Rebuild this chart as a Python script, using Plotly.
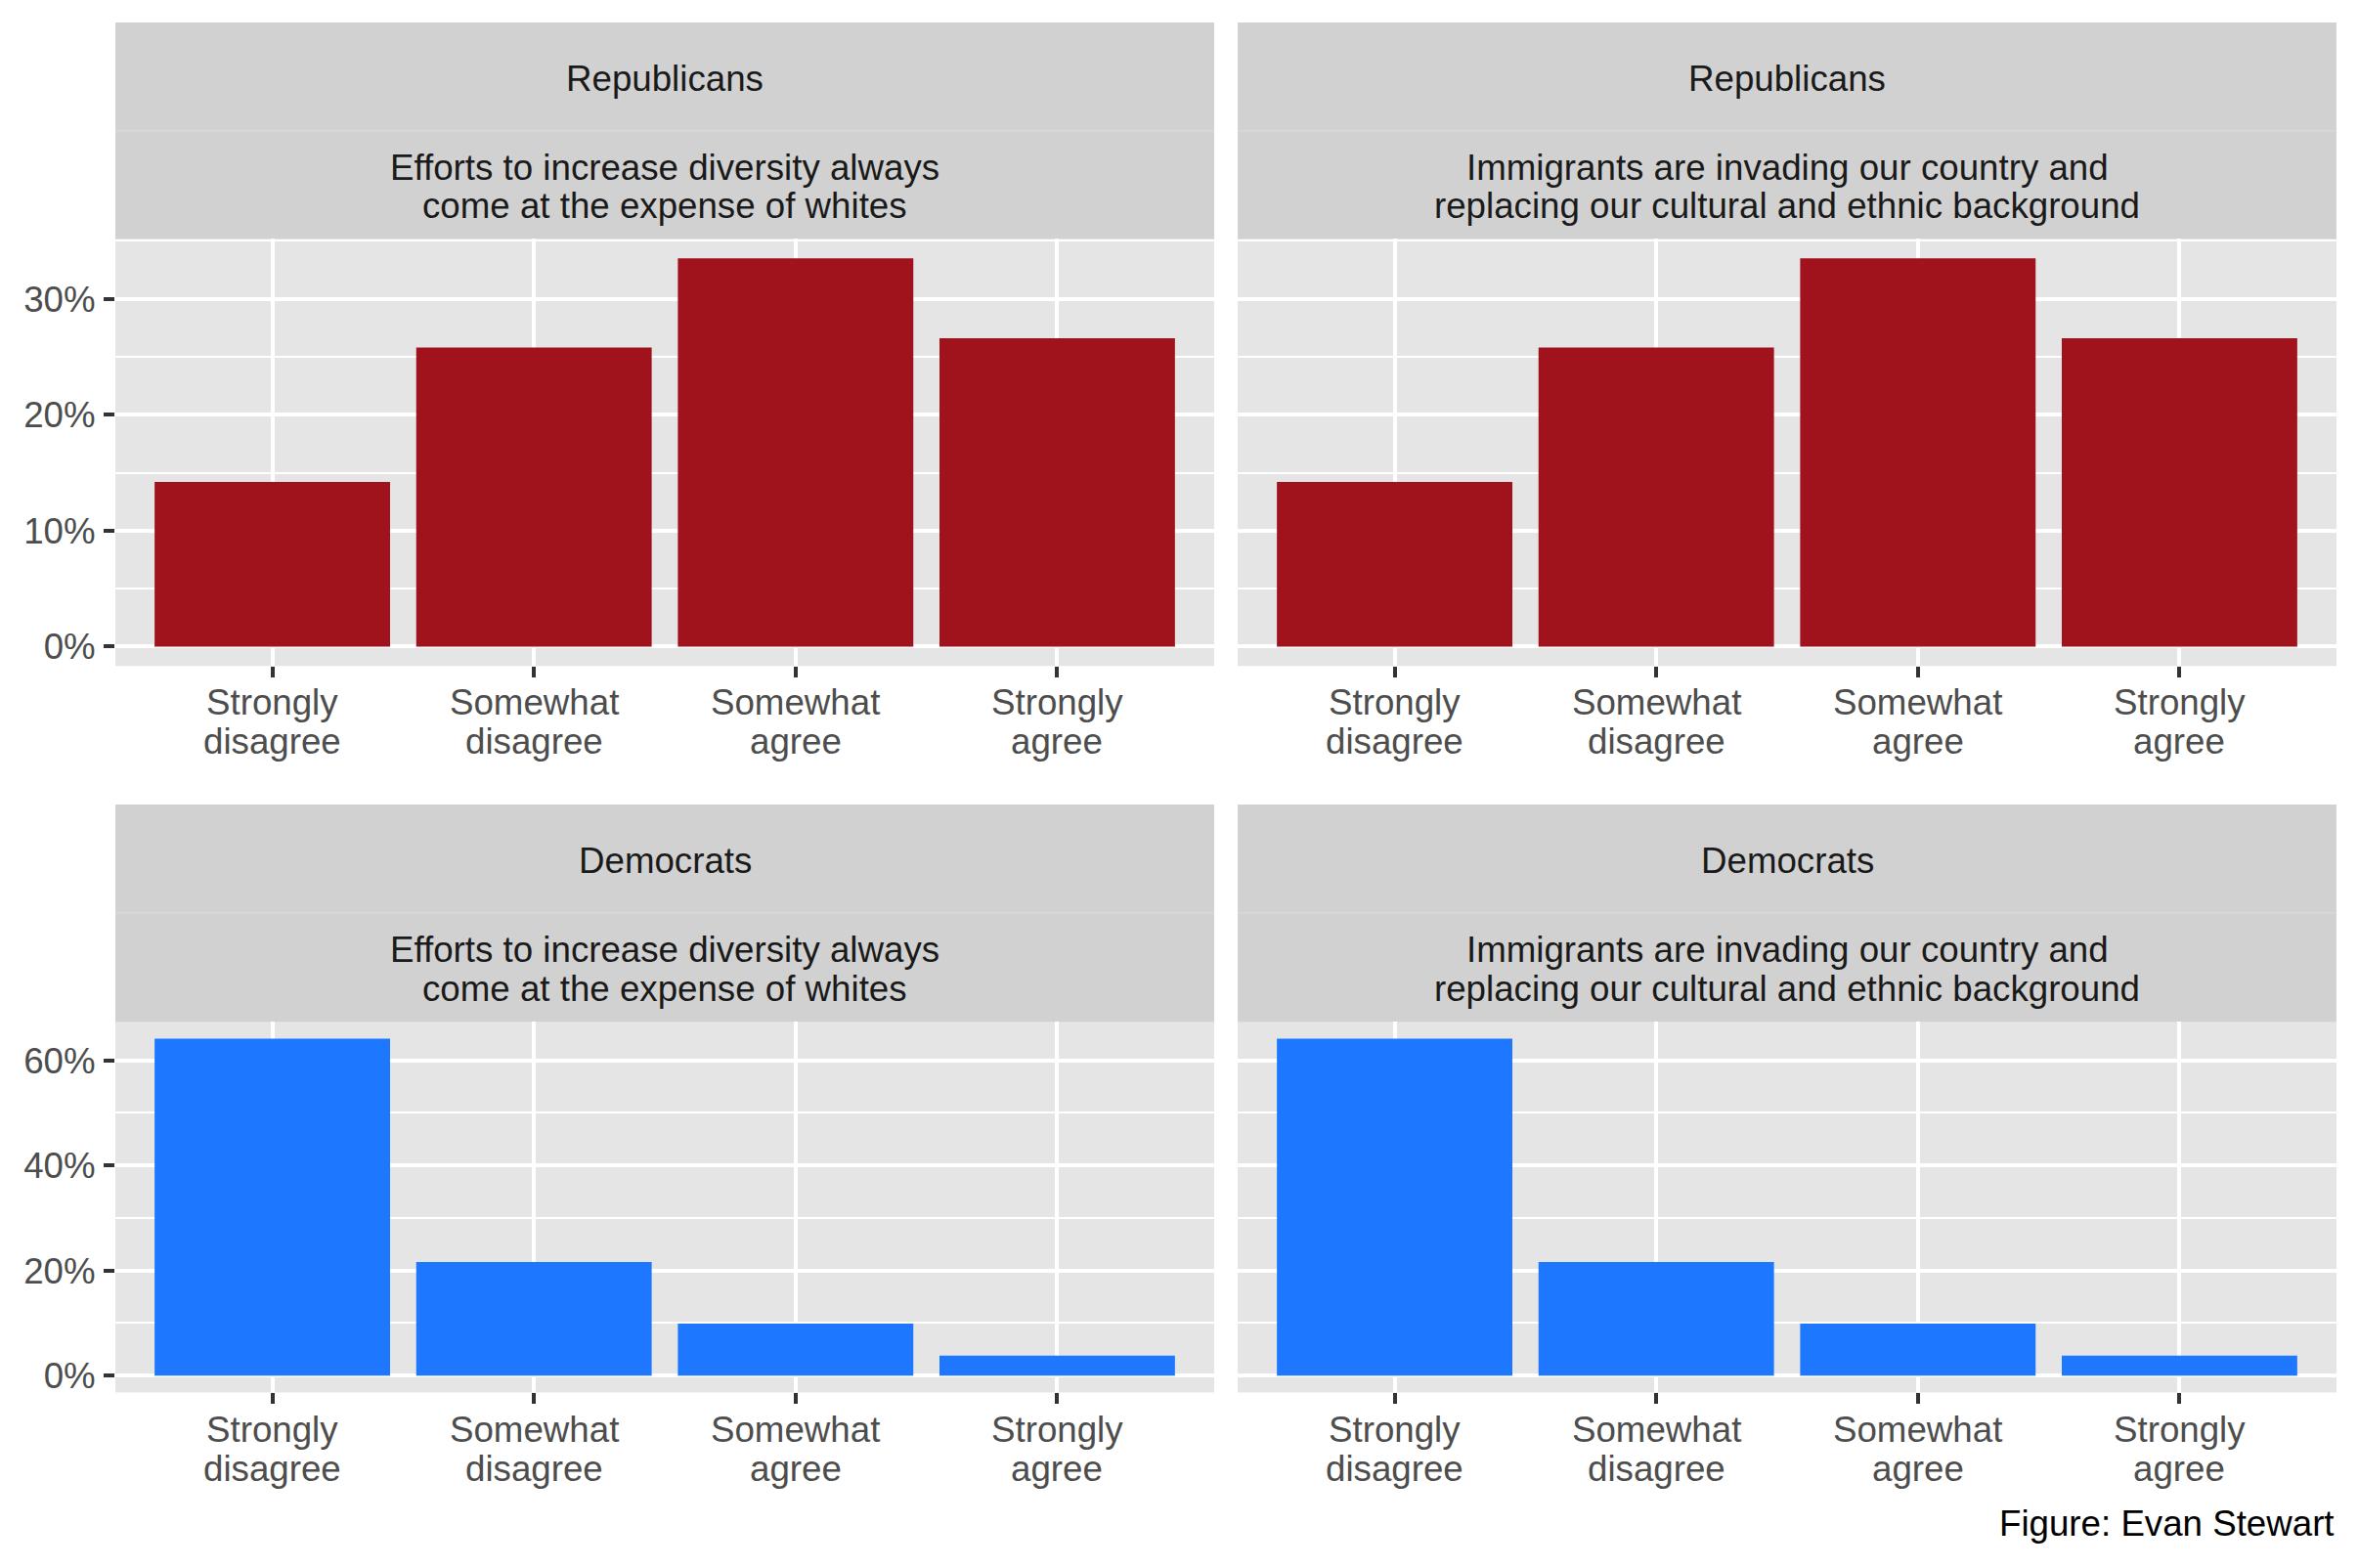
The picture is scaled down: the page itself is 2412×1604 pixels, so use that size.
import plotly.graph_objects as go

# ---------------- data ----------------
categories = ["Strongly disagree", "Somewhat disagree", "Somewhat agree", "Strongly agree"]
tick_labels = ["Strongly<br>disagree", "Somewhat<br>disagree", "Somewhat<br>agree", "Strongly<br>agree"]
parties = ["Republicans", "Democrats"]
statements = [
    "Efforts to increase diversity always<br>come at the expense of whites",
    "Immigrants are invading our country and<br>replacing our cultural and ethnic background",
]
rep_diversity = [14.2, 25.8, 33.5, 26.6]
rep_immigrants = [14.2, 25.8, 33.5, 26.6]
dem_diversity = [64.1, 21.6, 9.9, 3.8]
dem_immigrants = [64.1, 21.6, 9.9, 3.8]
rep_ticks = [0, 10, 20, 30]
dem_ticks = [0, 20, 40, 60]
caption = "Figure: Evan Stewart"

# ---------------- style ----------------
W, H = 2412, 1604
FONT = "Liberation Sans, Arial, Helvetica, sans-serif"
FS = 36.7
LINE_H = 40
RED = "#A0121C"
BLUE = "#1E78FF"
PANEL_BG = "#E5E5E5"
STRIP_BG = "#D1D1D1"

col_px = [(118, 1242), (1266, 2390)]
row_panel_px = [(245, 683), (1048, 1428)]
row_strip_px = [(23, 134, 245), (825, 936, 1048)]
row_label_px = [720, 1466]

def px_x(p):
    return p / W

def px_y(p):
    return 1 - p / H

panels = [
    (0, 0, rep_diversity, RED, rep_ticks),
    (0, 1, rep_immigrants, RED, rep_ticks),
    (1, 0, dem_diversity, BLUE, dem_ticks),
    (1, 1, dem_immigrants, BLUE, dem_ticks),
]

fig = go.Figure()
layout = {}
shapes = []
annotations = []

for i, (r, c, vals, color, ticks) in enumerate(panels):
    n = i + 1
    xa = "x" if n == 1 else f"x{n}"
    ya = "y" if n == 1 else f"y{n}"
    fig.add_trace(go.Bar(
        x=list(range(len(categories))), y=vals, width=0.9,
        marker=dict(color=color, line=dict(width=0)),
        xaxis=xa, yaxis=ya, showlegend=False, hoverinfo="skip",
        text=categories, textposition="none",
    ))
    ymax = max(vals)
    pad = 0.05 * ymax
    step = ticks[1] - ticks[0]
    minor_vals = [t + step / 2 for t in ticks]
    x0, x1 = col_px[c]
    ytop, ybot = row_panel_px[r]
    layout["xaxis" if n == 1 else f"xaxis{n}"] = dict(
        domain=[px_x(x0), px_x(x1)], anchor=ya,
        range=[-0.6, len(categories) - 0.4],
        tickmode="array", tickvals=list(range(len(categories))), ticktext=tick_labels,
        showticklabels=False,
        showgrid=True, gridcolor="white", gridwidth=4.4,
        ticks="outside", ticklen=11, tickwidth=4.4, tickcolor="#333333",
        showline=False, zeroline=False, fixedrange=True,
    )
    layout["yaxis" if n == 1 else f"yaxis{n}"] = dict(
        domain=[px_y(ybot), px_y(ytop)], anchor=xa,
        range=[-pad, ymax + pad],
        tickmode="array", tickvals=ticks, ticktext=[f"{t}%" for t in ticks],
        showticklabels=(c == 0),
        showgrid=True, gridcolor="white", gridwidth=4.4,
        ticks="outside" if c == 0 else "", ticklen=11, tickwidth=4.4, tickcolor="#333333",
        tickfont=dict(family=FONT, size=FS, color="#4D4D4D"),
        minor=dict(tickvals=minor_vals, showgrid=True, gridcolor="white", gridwidth=2.2, ticks=""),
        showline=False, zeroline=False, fixedrange=True, ticklabelstandoff=1,
    )
    # category labels under the axis, placed on the axis scale
    for k, lab in enumerate(tick_labels):
        for j, ln in enumerate(lab.split("<br>")):
            annotations.append(dict(
                xref=xa, yref="paper", x=k, y=px_y(row_label_px[r] + j * LINE_H),
                text=ln, showarrow=False, xanchor="center", yanchor="middle",
                font=dict(family=FONT, size=FS, color="#4D4D4D")))

# strips
for r in range(2):
    s0, s1, s2 = row_strip_px[r]
    for c in range(2):
        x0, x1 = col_px[c]
        shapes.append(dict(type="rect", xref="paper", yref="paper",
                           x0=px_x(x0), x1=px_x(x1), y0=px_y(s2), y1=px_y(s0),
                           fillcolor=STRIP_BG, line=dict(width=0), layer="below"))
        shapes.append(dict(type="line", xref="paper", yref="paper",
                           x0=px_x(x0), x1=px_x(x1), y0=px_y(s1), y1=px_y(s1),
                           line=dict(color="#D9D9D9", width=1.5), layer="below"))
        xc = px_x((x0 + x1) / 2)
        annotations.append(dict(xref="paper", yref="paper", x=xc, y=px_y((s0 + s1) / 2 + 2),
                                text=parties[r], showarrow=False, xanchor="center", yanchor="middle",
                                font=dict(family=FONT, size=FS, color="#1A1A1A")))
        lines = statements[c].split("<br>")
        mid = (s1 + s2) / 2 + 2
        for k, ln in enumerate(lines):
            yy = mid + (k - (len(lines) - 1) / 2) * LINE_H
            annotations.append(dict(xref="paper", yref="paper", x=xc, y=px_y(yy),
                                    text=ln, showarrow=False, xanchor="center", yanchor="middle",
                                    font=dict(family=FONT, size=FS, color="#1A1A1A")))

annotations.append(dict(xref="paper", yref="paper", x=px_x(2390), y=px_y(1562),
                        text=caption, showarrow=False, xanchor="right", yanchor="middle",
                        font=dict(family=FONT, size=FS, color="#000000")))

fig.update_layout(
    width=W, height=H, margin=dict(l=0, r=0, t=0, b=0),
    paper_bgcolor="white", plot_bgcolor=PANEL_BG,
    shapes=shapes, annotations=annotations, showlegend=False,
    **layout,
)
fig.write_html("out.html")
